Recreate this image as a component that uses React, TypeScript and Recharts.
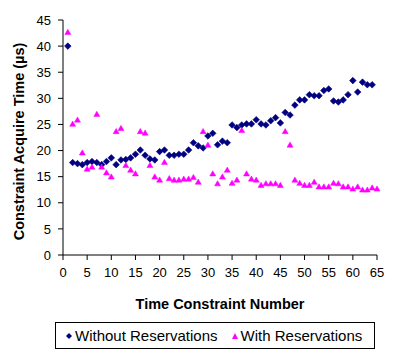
import React from "react";
import { ScatterChart, Scatter, XAxis, YAxis, Legend } from "recharts";

const constraintNumbers = [
  1, 2, 3, 4, 5, 6, 7, 8, 9, 10, 11, 12, 13, 14, 15, 16, 17, 18, 19, 20, 21,
  22, 23, 24, 25, 26, 27, 28, 29, 30, 31, 32, 33, 34, 35, 36, 37, 38, 39, 40,
  41, 42, 43, 44, 45, 46, 47, 48, 49, 50, 51, 52, 53, 54, 55, 56, 57, 58, 59,
  60, 61, 62, 63, 64, 65,
];

const withoutReservations = [
  40, 17.7, 17.5, 17.3, 17.7, 17.9, 17.7, 17.3, 17.9, 18.6, 17.3, 18.2, 18.3,
  18.6, 19.3, 20.1, 19.1, 18.4, 18.2, 19.8, 20.1, 19.1, 19.1, 19.3, 19.3, 20.1,
  21.5, 20.9, 20.5, 22.8, 23.3, 21.1, 21.8, 21.5, 24.9, 24.4, 24.9, 25.1, 25.1,
  25.9, 25.1, 24.9, 25.7, 26.3, 25.3, 27.3, 26.8, 28.7, 29.7, 29.7, 30.7, 30.5,
  30.5, 31.5, 31.8, 29.5, 29.3, 29.7, 30.7, 33.4, 31.2, 33.1, 32.6, 32.6,
];

const withReservations = [
  42.7, 25.1, 25.9, 19.6, 16.5, 16.9, 27.0, 16.9, 15.8, 15.0, 23.7, 24.3, 17.2,
  16.3, 15.6, 23.7, 23.4, 17.2, 15.0, 14.4, 17.8, 14.7, 14.4, 14.4, 14.6, 14.6,
  14.9, 14.0, 23.7, 21.1, 15.6, 13.7, 15.0, 16.3, 13.8, 14.4, 23.9, 15.6, 14.6,
  14.4, 13.4, 13.7, 13.7, 13.7, 13.4, 23.7, 21.1, 14.4, 13.8, 13.4, 13.4, 14.0,
  13.1, 13.1, 13.1, 13.8, 13.7, 13.1, 13.1, 12.7, 13.1, 12.5, 12.5, 12.9, 12.7,
];

const xTicks = [0, 5, 10, 15, 20, 25, 30, 35, 40, 45, 50, 55, 60, 65];
const yTicks = [0, 5, 10, 15, 20, 25, 30, 35, 40, 45];

const withoutData = withoutReservations.map((y, i) => ({
  x: constraintNumbers[i],
  y,
}));
const withData = withReservations.map((y, i) => ({
  x: constraintNumbers[i],
  y,
}));

const FONT = "'Liberation Sans', Arial, sans-serif";
const NAVY = "#000080";
const MAGENTA = "#ff00ff";

// excel-style markers: small square diamond and flat triangle
const DiamondDot = (props: any) => {
  const { cx, cy } = props;
  if (cx == null || cy == null) return null;
  const r = 3.3;
  return (
    <polygon
      points={`${cx},${cy - r} ${cx + r},${cy} ${cx},${cy + r} ${cx - r},${cy}`}
      fill={NAVY}
      stroke={NAVY}
      strokeWidth={0.6}
    />
  );
};

const TriangleDot = (props: any) => {
  const { cx, cy } = props;
  if (cx == null || cy == null) return null;
  return (
    <polygon
      points={`${cx},${cy - 2.8} ${cx + 3},${cy + 2.4} ${cx - 3},${cy + 2.4}`}
      fill={MAGENTA}
      stroke={MAGENTA}
      strokeWidth={0.5}
    />
  );
};

const LegendBox = () => (
  <div style={{ width: 394, height: 50, position: "relative" }}>
    <div
      style={{
        position: "absolute",
        left: 55,
        top: 13,
        width: 320,
        height: 27,
        boxSizing: "border-box",
        border: "1px solid #000",
        display: "flex",
        alignItems: "center",
        fontFamily: FONT,
        fontSize: 15,
        color: "#000",
        whiteSpace: "nowrap",
      }}
    >
      <svg width={6} height={6} style={{ marginLeft: 10, marginRight: 3 }}>
        <polygon points="3,0 6,3 3,6 0,3" fill={NAVY} />
      </svg>
      <span>Without Reservations</span>
      <svg width={6} height={6} style={{ marginLeft: 14, marginRight: 3 }}>
        <polygon points="3,0 6,6 0,6" fill={MAGENTA} />
      </svg>
      <span>With Reservations</span>
    </div>
  </div>
);

export default function App() {
  return (
    <div style={{ position: "absolute", left: 0, top: 0, background: "#fff" }}>
      <ScatterChart
        width={394}
        height={359}
        margin={{ top: 20, right: 17, left: 0, bottom: 0 }}
      >
        <XAxis
          type="number"
          dataKey="x"
          domain={[0, 65]}
          ticks={xTicks}
          interval={0}
          height={54}
          stroke="#000"
          tickSize={5}
          tickMargin={8}
          tick={{ fill: "#000", fontSize: 13, fontFamily: FONT }}
          label={{
            value: "Time Constraint Number",
            position: "insideBottom",
            offset: 0,
            style: {
              fill: "#000",
              fontSize: 14.5,
              fontWeight: "bold",
              fontFamily: FONT,
            },
          }}
        />
        <YAxis
          type="number"
          dataKey="y"
          domain={[0, 45]}
          ticks={yTicks}
          interval={0}
          width={63}
          stroke="#000"
          tickSize={5}
          tickMargin={7}
          tick={{ fill: "#000", fontSize: 13, fontFamily: FONT }}
          label={{
            value: "Constraint Acquire Time (µs)",
            angle: -90,
            position: "center",
            dx: -13,
            dy: 4,
            style: {
              fill: "#000",
              fontSize: 14.5,
              fontWeight: "bold",
              fontFamily: FONT,
              textAnchor: "middle",
            },
          }}
        />
        <Legend verticalAlign="bottom" content={() => <LegendBox />} />
        <Scatter
          name="Without Reservations"
          data={withoutData}
          shape={DiamondDot}
          fill={NAVY}
          isAnimationActive={false}
        />
        <Scatter
          name="With Reservations"
          data={withData}
          shape={TriangleDot}
          fill={MAGENTA}
          isAnimationActive={false}
        />
      </ScatterChart>
    </div>
  );
}
